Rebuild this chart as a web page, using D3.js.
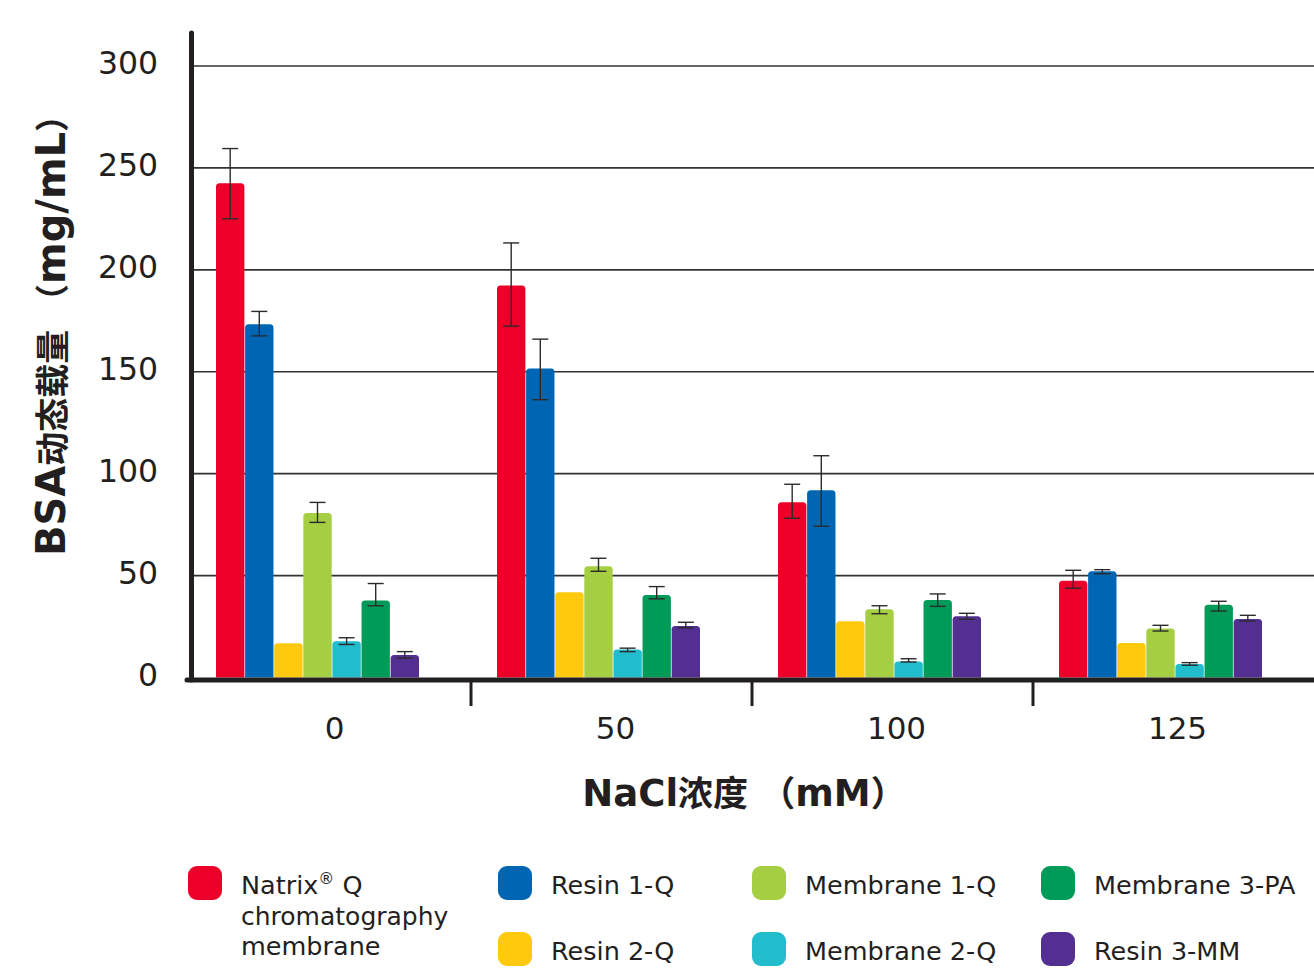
<!DOCTYPE html>
<html>
<head>
<meta charset="utf-8">
<script src="https://cdn.jsdelivr.net/npm/d3@7"></script>
<style>
  html, body { margin: 0; padding: 0; background: #fff; }
  svg { display: block; }
  text { font-family: "DejaVu Sans", "Noto Sans CJK SC", sans-serif; fill: #231f20; }
</style>
</head>
<body>
<svg id="chart" width="1314" height="970"></svg>
<script>
// NaCl concentration groups (mM)
const categories = ["0", "50", "100", "125"];
const seriesNames = ["Natrix® Q chromatography membrane", "Resin 1-Q", "Resin 2-Q",
  "Membrane 1-Q", "Membrane 2-Q", "Membrane 3-PA", "Resin 3-MM"];
const seriesColors = ["#ec0029", "#0066b3", "#ffc90d", "#a6ce43", "#22bdcd", "#009b58", "#532f91"];

// BSA dynamic binding capacity (mg/mL), one array per series across the NaCl groups
const natrixQ     = [242.5, 192.3, 86.0, 47.5];
const resin1Q     = [173.3, 151.6, 91.9, 52.1];
const resin2Q     = [16.8, 41.8, 27.6, 16.9];
const membrane1Q  = [80.7, 54.6, 33.5, 24.1];
const membrane2Q  = [17.8, 13.7, 7.8, 6.6];
const membrane3PA = [37.8, 40.5, 38.0, 35.7];
const resin3MM    = [11.0, 25.3, 30.0, 28.7];

// error bar ends (upper / lower), null where no error bar is shown
const natrixQHi     = [259.5, 213.2, 94.8, 52.6],  natrixQLo     = [225.1, 172.4, 78.1, 43.8];
const resin1QHi     = [179.6, 166.0, 108.8, 52.9], resin1QLo     = [167.6, 136.3, 74.2, 50.9];
const resin2QHi     = [null, null, null, null],    resin2QLo     = [null, null, null, null];
const membrane1QHi  = [85.9, 58.5, 35.2, 25.6],    membrane1QLo  = [76.1, 52.1, 31.3, 22.8];
const membrane2QHi  = [19.5, 14.4, 9.2, 7.3],      membrane2QLo  = [16.2, 12.7, 7.6, 6.0];
const membrane3PAHi = [46.1, 44.6, 41.0, 37.4],    membrane3PALo = [35.2, 38.6, 34.9, 32.6];
const resin3MMHi    = [12.7, 27.1, 31.5, 30.5],    resin3MMLo    = [9.5, 24.4, 28.6, 27.7];

const yTicks = [0, 50, 100, 150, 200, 250, 300];
// axis titles split into runs so Latin and CJK parts can be sized separately
const yTitleRuns = [["BSA", "latin"], ["动态载量 （", "cjk"], ["mg/mL", "latin"], ["）", "cjk"]];
const xTitleRuns = [["NaCl", "latin"], ["浓度 （", "cjk"], ["mM", "latin"], ["）", "cjk"]];

const values = [natrixQ, resin1Q, resin2Q, membrane1Q, membrane2Q, membrane3PA, resin3MM];
const highs = [natrixQHi, resin1QHi, resin2QHi, membrane1QHi, membrane2QHi, membrane3PAHi, resin3MMHi];
const lows = [natrixQLo, resin1QLo, resin2QLo, membrane1QLo, membrane2QLo, membrane3PALo, resin3MMLo];

const svg = d3.select("#chart");

const x0 = d3.scaleBand().domain(categories).range([190, 1314]).paddingInner(0).paddingOuter(0);
const x1 = d3.scaleBand().domain(d3.range(seriesNames.length)).range([26, 229]).paddingInner(0.025);
const y = d3.scaleLinear().domain([0, 300]).range([677.5, 66]);

// horizontal grid lines
svg.append("g").selectAll("line").data(yTicks.filter(d => d > 0)).join("line")
  .attr("x1", 194).attr("x2", 1314)
  .attr("y1", d => y(d)).attr("y2", d => y(d))
  .attr("stroke", "#333").attr("stroke-width", 1.6);

// y tick labels
svg.append("g").selectAll("text").data(yTicks).join("text")
  .attr("x", 158).attr("y", d => y(d) - 3)
  .attr("dy", "0.36em")
  .attr("text-anchor", "end")
  .attr("font-size", 31.5)
  .text(d => d);

// bars with rounded top corners
function barPath(x, w, yTop, yBase, r) {
  const rr = Math.min(r, (yBase - yTop) / 2, w / 2);
  return `M${x},${yBase}V${yTop + rr}Q${x},${yTop} ${x + rr},${yTop}H${x + w - rr}Q${x + w},${yTop} ${x + w},${yTop + rr}V${yBase}Z`;
}

const rows = [];
values.forEach((arr, s) => arr.forEach((v, c) => rows.push({
  s, c, v, hi: highs[s][c], lo: lows[s][c]
})));

const bw = x1.bandwidth();
svg.append("g").selectAll("path").data(rows).join("path")
  .attr("d", d => barPath(x0(categories[d.c]) + x1(d.s), bw, y(d.v), y(0), 3.5))
  .attr("fill", d => seriesColors[d.s]);

// error bars
const eg = svg.append("g").attr("stroke", "#2b2b2b").attr("stroke-width", 1.4).attr("fill", "none");
rows.filter(d => d.hi !== null).forEach(d => {
  const cx = x0(categories[d.c]) + x1(d.s) + bw / 2;
  const g = eg.append("g");
  g.append("line").attr("x1", cx).attr("x2", cx).attr("y1", y(d.hi)).attr("y2", y(d.lo));
  g.append("line").attr("x1", cx - 8).attr("x2", cx + 8).attr("y1", y(d.hi)).attr("y2", y(d.hi));
  g.append("line").attr("x1", cx - 8).attr("x2", cx + 8).attr("y1", y(d.lo)).attr("y2", y(d.lo));
});

// axes
svg.append("line").attr("x1", 191.5).attr("x2", 191.5).attr("y1", 33).attr("y2", 680)
  .attr("stroke", "#231f20").attr("stroke-width", 5).attr("stroke-linecap", "round");
svg.append("line").attr("x1", 187).attr("x2", 1314).attr("y1", 680).attr("y2", 680)
  .attr("stroke", "#231f20").attr("stroke-width", 5).attr("stroke-linecap", "round");

// category separators below the x axis
svg.append("g").selectAll("line").data(categories.slice(1)).join("line")
  .attr("x1", d => x0(d)).attr("x2", d => x0(d))
  .attr("y1", 680).attr("y2", 706)
  .attr("stroke", "#231f20").attr("stroke-width", 3);

// x tick labels
svg.append("g").selectAll("text").data(categories).join("text")
  .attr("x", d => x0(d) + x0.bandwidth() / 2 + 4)
  .attr("y", 739)
  .attr("text-anchor", "middle")
  .attr("font-size", 31)
  .text(d => d);

// axis titles
function addRuns(sel, runs, latinSize, cjkSize) {
  runs.forEach(([txt, kind]) => {
    sel.append("tspan")
      .attr("font-size", kind === "latin" ? latinSize : cjkSize)
      .text(txt);
  });
}

const yt = svg.append("text")
  .attr("transform", "translate(65,327) rotate(-90)")
  .attr("text-anchor", "middle")
  .attr("font-weight", "bold");
addRuns(yt, yTitleRuns, 40, 34);

const xt = svg.append("text")
  .attr("x", 744).attr("y", 806)
  .attr("text-anchor", "middle")
  .attr("font-weight", "bold");
addRuns(xt, xTitleRuns, 37, 35);

// legend
const colX = [188, 498, 752, 1041];
const rowY = [866, 932];
const leg = svg.append("g");
seriesNames.forEach((name, i) => {
  const col = i === 0 ? 0 : Math.floor((i - 1) / 2) + 1;
  const row = i === 0 ? 0 : (i - 1) % 2;
  const gx = colX[col], gy = rowY[row];
  leg.append("rect").attr("x", gx).attr("y", gy).attr("width", 34).attr("height", 34)
    .attr("rx", 9).attr("ry", 9).attr("fill", seriesColors[i]);
  const t = leg.append("text").attr("x", gx + 53).attr("y", gy + 28)
    .attr("font-size", 25.5);
  if (i === 0) {
    t.append("tspan").text("Natrix");
    t.append("tspan").attr("font-size", 16).attr("dy", -10).text("®");
    t.append("tspan").attr("dy", 10).text(" Q");
    t.append("tspan").attr("x", gx + 53).attr("dy", 30.5).attr("font-size", 25).text("chromatography");
    t.append("tspan").attr("x", gx + 53).attr("dy", 30).text("membrane");
  } else {
    t.text(name);
  }
});
</script>
</body>
</html>
